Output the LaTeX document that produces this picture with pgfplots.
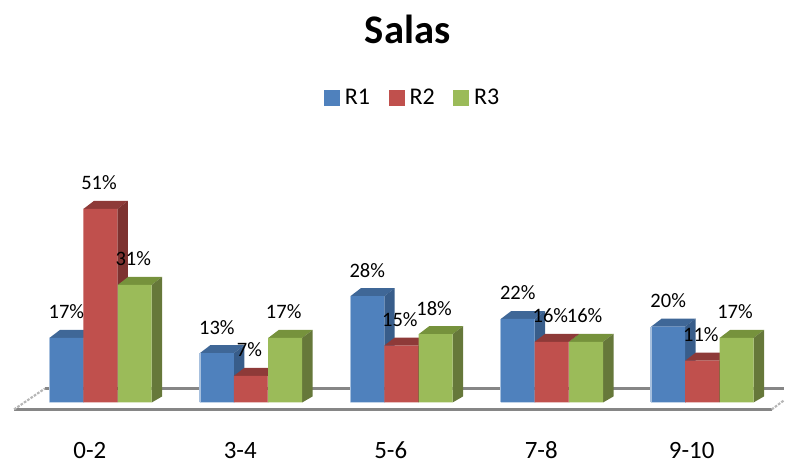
\documentclass[border=0pt]{standalone}
\usepackage{fontspec}
\setmainfont{Carlito}
\usepackage{pgfplots}
\usepackage{pgfplotstable}
\pgfplotsset{compat=1.18}
\definecolor{blueF}{RGB}{79,129,189}
\definecolor{blueS}{RGB}{56,93,138}
\definecolor{blueT}{RGB}{63,103,151}
\definecolor{redF}{RGB}{192,80,77}
\definecolor{redS}{RGB}{125,50,48}
\definecolor{redT}{RGB}{142,58,56}
\definecolor{greenF}{RGB}{155,187,89}
\definecolor{greenS}{RGB}{102,120,58}
\definecolor{greenT}{RGB}{118,146,60}
\definecolor{floorline}{RGB}{134,134,134}

% 1 px of the reference = 0.75pt; 150.7 px per group, 3.8 px per percent
\pgfplotstableread{
i r1 r2 r3
0 17 51 31
1 13 7 17
2 28 15 18
3 22 16 16
4 20 11 17
}\salas

% #1 column, #2 shift from tick in px, #3 front, #4 side, #5 top
\newcommand{\barseries}[5]{%
  \pgfplotsinvokeforeach{0,...,4}{%
    \pgfplotstablegetelem{##1}{#1}\of{\salas}%
    \pgfmathsetmacro\yt{\pgfplotsretval}%
    \pgfmathsetmacro\yb{\yt+8/3.8}%
    \pgfmathsetmacro\xl{##1+(#2-17)/150.7}%
    \pgfmathsetmacro\xr{##1+(#2+17)/150.7}%
    \pgfmathsetmacro\xlb{\xl+10.5/150.7}%
    \pgfmathsetmacro\xrb{\xr+10.5/150.7}%
    \addplot[fill=#5, draw=none, forget plot] coordinates {(\xl,\yt) (\xlb,\yb) (\xrb,\yb) (\xr,\yt)};
    \addplot[fill=#4, draw=none, forget plot] coordinates {(\xr,0) (\xr,\yt) (\xrb,\yb) (\xrb,1.6)};
  }%
  \pgfmathsetmacro\sh{#2*0.75}%
  \edef\doplot{\noexpand\addplot[ybar, bar width=25.5pt, bar shift=\sh pt, fill=#3, draw=none, forget plot] table[x=i, y=#1] {\noexpand\salas};}%
  \doplot
}
% light left edge of the blue bars
\newcommand{\leftedges}[3]{%
  \pgfplotsinvokeforeach{0,...,4}{%
    \pgfplotstablegetelem{##1}{#1}\of{\salas}%
    \pgfmathsetmacro\yt{\pgfplotsretval}%
    \pgfmathsetmacro\xl{##1+(#2-17)/150.7}%
    \addplot[#3, line width=1.1pt, forget plot] coordinates {(\xl,0) (\xl,\yt)};
  }%
}
\newcommand{\barlabels}[2]{%
  \addplot[draw=none, forget plot,
    nodes near coords={\pgfmathprintnumber{\pgfplotspointmeta}\%},
    every node near coord/.append style={anchor=center, xshift=#2, yshift=19.5pt, font=\fontsize{15.4}{15.4}\selectfont, text=black, inner sep=0pt}]
    table[x=i, y=#1] {\salas};
}

\begin{document}
\begin{tikzpicture}
\begin{axis}[
  scale only axis,
  width=588.75pt, height=345.75pt,
  xmin=-0.5972, xmax=4.6118,
  ymin=-15.263, ymax=106.05,
  axis line style={draw=none},
  major tick length=0pt,
  ytick=\empty,
  xtick={0,1,2,3,4},
  xticklabels={0-2,3-4,5-6,7-8,9-10},
  xticklabel style={anchor=center, yshift=7.5pt, font=\fontsize{18.7}{18.7}\selectfont},
  /pgf/number format/assume math mode=true,
  clip=false,
  title={\textbf{Salas}},
  title style={at={(0.52,0.918)}, anchor=center, font=\fontsize{30.5}{30.5}\selectfont},
  legend columns=3,
  legend style={at={(0.527,0.787)}, anchor=center, draw=none, fill=none,
    font=\fontsize{18}{18}\selectfont, inner sep=0pt,
    /tikz/every odd column/.append style={column sep=2pt},
    /tikz/every even column/.append style={column sep=12pt}},
  legend image code/.code={\fill[#1] (0pt,-5.6pt) rectangle (11.25pt,5.6pt);},
]
% floor of the 3d chart
\addplot[floorline, line width=2pt, forget plot] coordinates {(-0.2986,3.68) (4.6118,3.68)};
\addplot[floorline, line width=2pt, forget plot] coordinates {(-0.5038,-1.84) (4.532,-1.84)};
\addplot[floorline!60, line width=1.6pt, dash pattern=on 2pt off 1pt, forget plot] coordinates {(-0.5038,-1.84) (-0.2986,3.68)};
\addplot[floorline!60, line width=1.6pt, dash pattern=on 2pt off 1pt, forget plot] coordinates {(4.532,-1.84) (4.6118,0.5)};

\barseries{r1}{-23.5}{blueF}{blueS}{blueT}
\leftedges{r1}{-23.5}{blueF!50!white}
\barseries{r2}{10.5}{redF}{redS}{redT}
\barseries{r3}{45}{greenF}{greenS}{greenT}

\barlabels{r1}{-17.6pt}
\barlabels{r2}{6.9pt}
\barlabels{r3}{32.6pt}

\addlegendimage{blueF}\addlegendentry{R1}
\addlegendimage{redF}\addlegendentry{R2}
\addlegendimage{greenF}\addlegendentry{R3}
\end{axis}
\end{tikzpicture}
\end{document}
